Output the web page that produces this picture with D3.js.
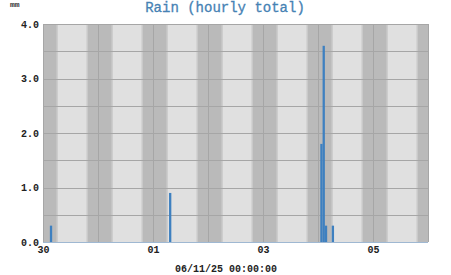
<!DOCTYPE html>
<html>
<head>
<meta charset="utf-8">
<script src="https://cdn.jsdelivr.net/npm/d3@7"></script>
<style>
  body { margin: 0; background: #fff; }
  svg { display: block; }
</style>
</head>
<body>
<svg id="chart"></svg>
<script>
// hourly rain totals (start of hour, UTC) and amounts in mm
const rainTimes = ["2025-05-30T03:00", "2025-06-01T07:00", "2025-06-04T01:00",
                   "2025-06-04T02:00", "2025-06-04T03:00", "2025-06-04T06:00"];
const rainValues = [0.3, 0.9, 1.8, 3.6, 0.3, 0.3];

const days = ["2025-05-30", "2025-05-31", "2025-06-01", "2025-06-02", "2025-06-03",
              "2025-06-04", "2025-06-05", "2025-06-06"];
const xTickDays = ["2025-05-30", "2025-06-01", "2025-06-03", "2025-06-05"];
const yTicks = [0, 1, 2, 3, 4];
const yGrid = [0.5, 1, 1.5, 2, 2.5, 3, 3.5, 4];
const sunset = 19.63;   // hours
const sunrise = 5.83;

const title = "Rain (hourly total)";
const unitLabel = "mm";
const dateLabel = "06/11/25 00:00:00";

const width = 451, height = 275;
const margin = {left: 43, right: 23, top: 24, bottom: 33};
const mono = "'Liberation Mono', 'DejaVu Sans Mono', monospace";

const parse = d3.utcParse("%Y-%m-%dT%H:%M");
const parseDay = d3.utcParse("%Y-%m-%d");

let svg = d3.select("#chart")
    .attr("width", width)
    .attr("height", height);

let x = d3.scaleUtc()
    .domain([parseDay(days[0]), parseDay(days[days.length - 1])])
    .range([margin.left, width - margin.right]);

let y = d3.scaleLinear()
    .domain([0, 4])
    .range([height - margin.bottom, margin.top]);

// day background
svg.append("rect")
    .attr("x", x.range()[0])
    .attr("y", y(4))
    .attr("width", x.range()[1] - x.range()[0])
    .attr("height", y(0) - y(4))
    .attr("fill", "#e0e0e0");

// night bands, clipped to the plot
svg.append("clipPath").attr("id", "plot")
    .append("rect")
    .attr("x", x.range()[0])
    .attr("y", y(4))
    .attr("width", x.range()[1] - x.range()[0])
    .attr("height", y(0) - y(4));

let nights = svg.append("g").attr("clip-path", "url(#plot)");
const hour = 3600 * 1000;
days.forEach(function(d) {
    let mid = parseDay(d);
    let start = new Date(mid.getTime() - (24 - sunset) * hour);
    let end = new Date(mid.getTime() + sunrise * hour);
    // twilight fringe
    nights.append("rect")
        .attr("x", x(start) - 1.5)
        .attr("y", y(4))
        .attr("width", x(end) - x(start) + 3)
        .attr("height", y(0) - y(4))
        .attr("fill", "#cacaca");
    nights.append("rect")
        .attr("x", x(start))
        .attr("y", y(4))
        .attr("width", x(end) - x(start))
        .attr("height", y(0) - y(4))
        .attr("fill", "#bababa");
});

// grid
svg.append("g")
    .selectAll("line")
    .data(yGrid)
    .join("line")
    .attr("x1", x.range()[0])
    .attr("x2", x.range()[1])
    .attr("y1", d => Math.round(y(d)) + 0.5)
    .attr("y2", d => Math.round(y(d)) + 0.5)
    .attr("stroke", "#a6a6a6")
    .attr("stroke-width", 1);

svg.append("g")
    .selectAll("line")
    .data(days)
    .join("line")
    .attr("x1", d => Math.round(x(parseDay(d))) + 0.5)
    .attr("x2", d => Math.round(x(parseDay(d))) + 0.5)
    .attr("y1", y(4))
    .attr("y2", y(0))
    .attr("stroke", "#a6a6a6")
    .attr("stroke-width", 1);

// bars
svg.append("g")
    .selectAll("rect")
    .data(rainTimes)
    .join("rect")
    .attr("x", d => x(parse(d)))
    .attr("width", d => x(new Date(parse(d).getTime() + hour)) - x(parse(d)))
    .attr("y", (d, i) => y(rainValues[i]))
    .attr("height", (d, i) => y(0) - y(rainValues[i]))
    .attr("fill", "#3e80c0");

// bottom axis line
svg.append("line")
    .attr("x1", x.range()[0])
    .attr("x2", x.range()[1])
    .attr("y1", y(0) + 0.5)
    .attr("y2", y(0) + 0.5)
    .attr("stroke", "#9fb8d2")
    .attr("stroke-width", 1);

// y axis labels
let yAxis = svg.append("g")
    .attr("transform", "translate(" + (margin.left - 4) + ",0)")
    .call(d3.axisLeft(y).tickValues(yTicks).tickFormat(d3.format(".1f")).tickSize(0).tickPadding(0));
yAxis.select(".domain").remove();
yAxis.selectAll("text")
    .attr("font-family", mono)
    .attr("font-size", "10px")
    .attr("font-weight", "bold")
    .attr("fill", "#222");

// x axis labels
let xAxis = svg.append("g")
    .attr("transform", "translate(0," + y(0) + ")")
    .call(d3.axisBottom(x).tickValues(xTickDays.map(parseDay)).tickFormat(d3.utcFormat("%d")).tickSize(0).tickPadding(4));
xAxis.select(".domain").remove();
xAxis.selectAll("text")
    .attr("font-family", mono)
    .attr("font-size", "10px")
    .attr("font-weight", "bold")
    .attr("fill", "#222");

// title and labels
svg.append("text")
    .attr("x", 225)
    .attr("y", 12)
    .attr("text-anchor", "middle")
    .attr("font-family", mono)
    .attr("font-size", "14px")
    .attr("fill", "#4682b4")
    .attr("stroke", "#4682b4")
    .attr("stroke-width", 0.3)
    .text(title);

svg.append("text")
    .attr("x", 10)
    .attr("y", 7)
    .attr("font-family", mono)
    .attr("font-size", "8px")
    .attr("font-weight", "bold")
    .attr("fill", "#333")
    .text(unitLabel);

svg.append("text")
    .attr("x", 226)
    .attr("y", 272)
    .attr("text-anchor", "middle")
    .attr("font-family", mono)
    .attr("font-size", "10px")
    .attr("font-weight", "bold")
    .attr("fill", "#222")
    .text(dateLabel);
</script>
</body>
</html>
